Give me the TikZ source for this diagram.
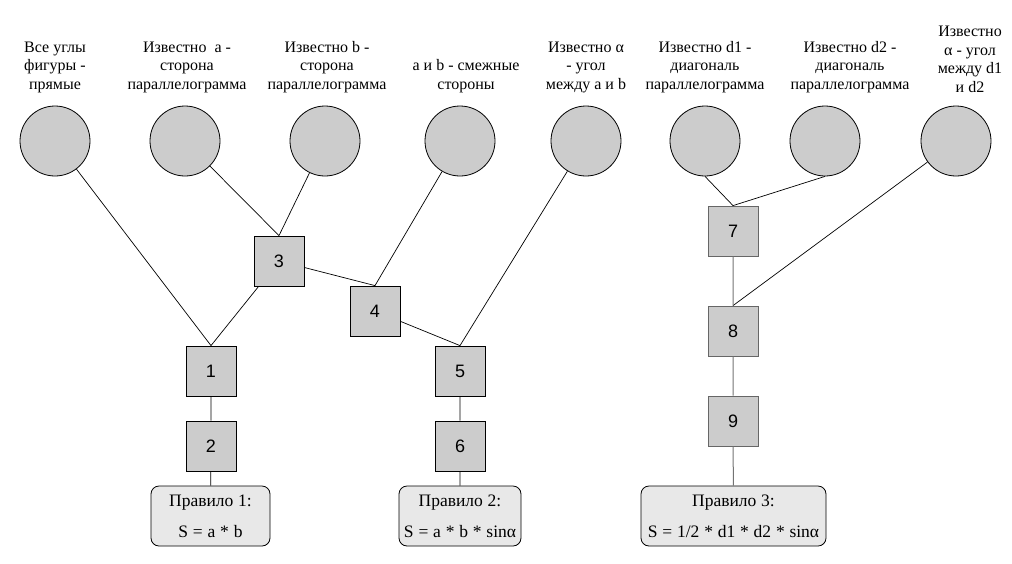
\documentclass[tikz,border=0pt]{standalone}
\usepackage{fontspec}
\setmainfont{Liberation Serif}
\setsansfont{Liberation Sans}
\newfontfamily\rulefont{Liberation Serif}[WordSpace=1.1]
\usepackage{tikz}

\begin{document}
\begin{tikzpicture}
[x=1pt, y=-1pt,
  fact/.style={circle, draw, fill=black!20, minimum size=70pt, inner sep=0pt, line width=0.8pt},
  factlabel/.style={anchor=south, align=center, font=\fontsize{16}{18.5}\selectfont},
  stepbox/.style={rectangle, draw, fill=black!20, minimum size=50pt, inner sep=0pt, line width=0.8pt,
    font=\sffamily\fontsize{18}{20}\selectfont},
  rulebox/.style={rectangle, rounded corners=8pt, draw, fill=black!9, minimum height=60pt, inner sep=1pt,
    line width=0.8pt, align=center, font=\rulefont\fontsize{17.5}{18}\selectfont},
  link/.style={draw, line width=0.7pt},
  graylink/.style={draw=black!55, line width=1pt}]
  \useasboundingbox (0,0) rectangle (1012,563);

  % known facts
  \node[factlabel] (l1) at (55,96) {Все углы\\фигуры -\\прямые};
  \node[factlabel] (l2) at (187,96) {Известно\ \ a -\\сторона\\параллелограмма};
  \node[factlabel] (l3) at (327,96) {Известно b -\\сторона\\параллелограмма};
  \node[factlabel] (l4) at (466,96) {a и b - смежные\\стороны};
  \node[factlabel] (l5) at (586,96) {Известно α\\- угол\\между a и b};
  \node[factlabel] (l6) at (705,96) {Известно d1 -\\диагональ\\параллелограмма};
  \node[factlabel] (l7) at (850,96) {Известно d2 -\\диагональ\\параллелограмма};
  \node[factlabel] (l8) at (970,96) {Известно\\α - угол\\между d1\\и d2};

  \node[fact] (c1) at (55,141) {};
  \node[fact] (c2) at (185,141) {};
  \node[fact] (c3) at (325,141) {};
  \node[fact] (c4) at (460,141) {};
  \node[fact] (c5) at (586,141) {};
  \node[fact] (c6) at (705,141) {};
  \node[fact] (c7) at (825,141) {};
  \node[fact] (c8) at (956,141) {};

  % steps
  \node[stepbox] (s1) at (211,371) {1};
  \node[stepbox] (s2) at (211,446) {2};
  \node[stepbox] (s3) at (279,261) {3};
  \node[stepbox] (s4) at (375,311) {4};
  \node[stepbox] (s5) at (460,371) {5};
  \node[stepbox] (s6) at (460,446) {6};
  \node[stepbox, draw=black!60] (s7) at (733,231) {7};
  \node[stepbox, draw=black!60] (s8) at (733,331) {8};
  \node[stepbox, draw=black!60] (s9) at (733,421) {9};

  % rules
  \node[rulebox, minimum width=119pt] (r1) at (210.5,516) {Правило 1:\\[13pt]S = a * b};
  \node[rulebox, minimum width=122pt] (r2) at (460,516) {Правило 2:\\[13pt]S = a * b * sinα};
  \node[rulebox, minimum width=185pt] (r3) at (733.5,516) {Правило 3:\\[13pt]S = 1/2 * d1 * d2 * sinα};

  \path[link] (c1) -- (s1.north)
    (s3) -- (s1.north)
    (c2) -- (s3.north)
    (c3) -- (s3.north)
    (s3) -- (s4.north)
    (c4) -- (s4.north)
    (s4) -- (s5.north)
    (c5) -- (s5.north)
    (s1) -- (s2)
    (s2) -- (r1)
    (s5) -- (s6)
    (s6) -- (r2)
    (c6.south) -- (s7.north)
    (c7.south) -- (s7.north)
    (c8) -- (s8.north);
  \path[graylink] (s7) -- (s8)
    (s8) -- (s9)
    (s9) -- (r3);
\end{tikzpicture}
\end{document}
